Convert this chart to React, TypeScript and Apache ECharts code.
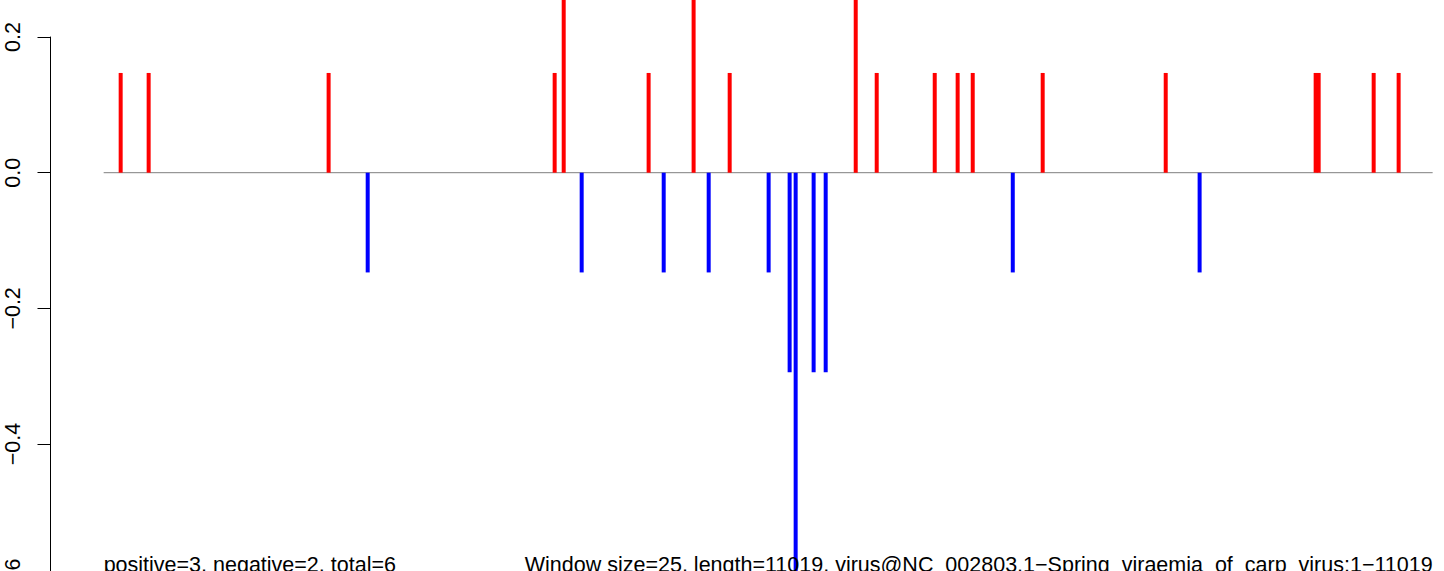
import React, { useEffect, useRef } from "react";
import * as echarts from "echarts";

const seqLength = 11019;
const windowSize = 25;

const positivePositions = [142, 374, 1866, 3740, 3815, 4519, 4892, 5191, 6236, 6410, 6891, 7081, 7206, 7786, 8806, 10049, 10074, 10530, 10737];
const positiveValues = [0.147, 0.147, 0.147, 0.147, 0.294, 0.147, 0.294, 0.147, 0.294, 0.147, 0.147, 0.147, 0.147, 0.147, 0.147, 0.147, 0.147, 0.147, 0.147];

const negativePositions = [2190, 3964, 4644, 5017, 5514, 5688, 5738, 5887, 5987, 7538, 9087];
const negativeValues = [-0.147, -0.147, -0.147, -0.147, -0.147, -0.294, -0.588, -0.294, -0.294, -0.147, -0.147];

const yTicks = [-0.6, -0.4, -0.2, 0.0, 0.2];
const yTickLabels = ["\u22120.6", "\u22120.4", "\u22120.2", "0.0", "0.2"];

const leftText = "positive=3, negative=2, total=6";
const rightText = `Window size=${windowSize}, length=${seqLength}, virus@NC_002803.1\u2212Spring_viraemia_of_carp_virus:1\u2212${seqLength}`;

const FONT = "'Liberation Sans', Arial, Helvetica, sans-serif";

export default function App() {
  const ref = useRef<HTMLDivElement>(null);

  useEffect(() => {
    if (!ref.current) return;
    const chart = echarts.init(ref.current, undefined, { renderer: "svg" });
    const pad = 0.04 * (seqLength - 1);
    const xMin = 1 - pad;
    const pxPerUnit = 0.12062;
    const gridLeft = 50.5;
    const xMax = xMin + (1444 - gridLeft) / pxPerUnit;

    chart.setOption({
      animation: false,
      grid: {
        left: gridLeft,
        right: 0,
        top: 37,
        bottom: -8.8,
        containLabel: false,
        outerBoundsMode: "none",
      },
      xAxis: {
        type: "value",
        min: xMin,
        max: xMax,
        show: false,
      },
      yAxis: {
        type: "value",
        min: -0.6,
        max: 0.2,
        interval: 0.2,
        splitLine: { show: false },
        axisLine: { show: true, onZero: false, lineStyle: { color: "#000", width: 1 } },
        axisTick: { show: true, length: 13, lineStyle: { color: "#000", width: 1 } },
        axisLabel: {
          rotate: 90,
          margin: 27,
          color: "#000",
          fontSize: 21.5,
          fontFamily: FONT,
          showMinLabel: true,
          showMaxLabel: true,
          formatter: (v: number) => {
            const i = yTicks.findIndex((t) => Math.abs(t - v) < 1e-9);
            return i >= 0 ? yTickLabels[i] : "";
          },
        },
      },
      series: [
        {
          type: "line",
          data: [[1, 0], [seqLength, 0]],
          symbol: "none",
          silent: true,
          lineStyle: { color: "#7f7f7f", width: 1 },
          z: 1,
        },
        {
          type: "bar",
          data: positivePositions.map((p, i) => [p, positiveValues[i]]),
          barWidth: 4,
          barGap: "-100%",
          clip: false,
          itemStyle: { color: "#ff0000" },
          z: 2,
        },
        {
          type: "bar",
          data: negativePositions.map((p, i) => [p, negativeValues[i]]),
          barWidth: 4,
          barGap: "-100%",
          clip: false,
          itemStyle: { color: "#0000ff" },
          z: 2,
        },
      ],
    });

    const pStart = chart.convertToPixel({ gridIndex: 0 }, [1, 0]) as number[];
    const pEnd = chart.convertToPixel({ gridIndex: 0 }, [seqLength, 0]) as number[];
    const textY = 564.5;

    chart.setOption({
      graphic: [
        {
          type: "text",
          x: pStart[0],
          y: textY,
          style: {
            text: leftText,
            fontSize: 21.5,
            fontFamily: FONT,
            fill: "#000",
            align: "left",
            verticalAlign: "middle",
          },
          z: 10,
        },
        {
          type: "text",
          x: pEnd[0],
          y: textY,
          style: {
            text: rightText,
            fontSize: 21.5,
            fontFamily: FONT,
            fill: "#000",
            align: "right",
            verticalAlign: "middle",
          },
          z: 10,
        },
      ],
    });

    return () => chart.dispose();
  }, []);

  return (
    <div
      ref={ref}
      style={{ position: "fixed", left: 0, top: 0, width: 1444, height: 571, background: "#fff" }}
    />
  );
}
